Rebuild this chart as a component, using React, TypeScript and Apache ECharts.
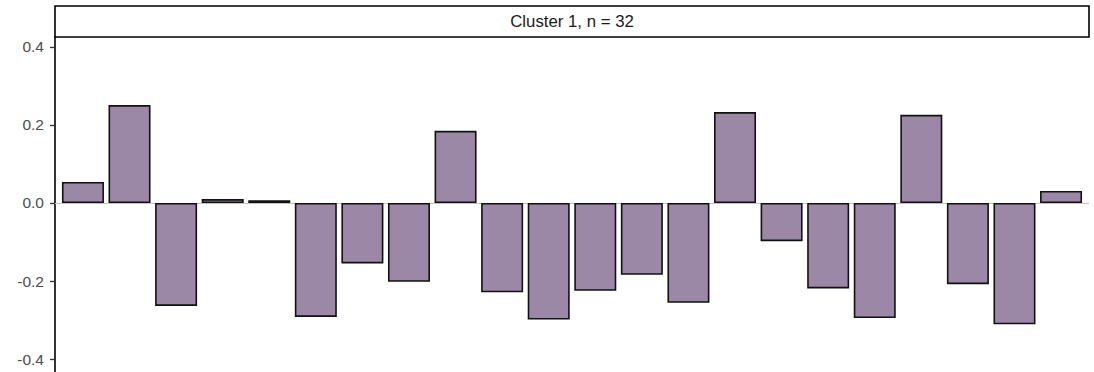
import React, { useEffect, useRef } from "react";
import * as echarts from "echarts";

const stripTitle = "Cluster 1, n = 32";
const positions = [1, 2, 3, 4, 5, 6, 7, 8, 9, 10, 11, 12, 13, 14, 15, 16, 17, 18, 19, 20, 21, 22];
const values = [
  0.054, 0.251, -0.264, 0.010, 0.007, -0.292, -0.155, -0.202, 0.185, -0.229, -0.299,
  -0.225, -0.184, -0.256, 0.233, -0.098, -0.219, -0.295, 0.226, -0.208, -0.311, 0.031,
];
const yTicks = [-0.4, -0.2, 0, 0.2, 0.4];

const FONT = "'Liberation Sans', Arial, Helvetica, sans-serif";

export default function App() {
  const ref = useRef<HTMLDivElement>(null);
  useEffect(() => {
    if (!ref.current) return;
    const chart = echarts.init(ref.current, null, { renderer: "svg" });
    const gridLeft = 55;
    const gridRight = 5;
    const width = 1094;
    chart.setOption({
      animation: false,
      backgroundColor: "#ffffff",
      grid: { left: gridLeft, right: gridRight, top: 37, bottom: 0 },
      xAxis: {
        type: "value",
        min: 0.4,
        max: 22.6,
        show: false,
      },
      yAxis: {
        type: "value",
        min: -0.4333,
        max: 0.4256,
        axisLine: { show: true, onZero: false, lineStyle: { color: "#000000", width: 1.6 } },
        axisTick: { show: true, length: 5, customValues: yTicks, lineStyle: { color: "#333333", width: 1.3 } },
        splitLine: { show: false },
        axisLabel: {
          customValues: yTicks,
          formatter: (v: number) => v.toFixed(1),
          color: "#4D4D4D",
          fontSize: 15.5,
          fontFamily: FONT,
          margin: 11,
        },
      },
      series: [
        {
          type: "bar",
          data: positions.map((p, i) => [p, values[i]]),
          barWidth: 42,
          itemStyle: { color: "#9A88A6", borderColor: "#111111", borderWidth: 1.6 },
          markLine: {
            silent: true,
            symbol: "none",
            label: { show: false },
            lineStyle: { color: "#C4C4C4", width: 1, type: "solid" },
            data: [{ yAxis: 0 }],
            z: 1,
          },
          z: 2,
        },
      ],
      graphic: [
        {
          type: "rect",
          shape: { x: gridLeft, y: 6, width: width - gridLeft - gridRight, height: 31 },
          style: { fill: "#ffffff", stroke: "#000000", lineWidth: 1.6 },
        },
        {
          type: "text",
          x: gridLeft + (width - gridLeft - gridRight) / 2,
          y: 21.5,
          style: {
            text: stripTitle,
            fill: "#1A1A1A",
            fontSize: 16.8,
            fontFamily: FONT,
            align: "center",
            verticalAlign: "middle",
          },
        },
      ],
    });
    return () => chart.dispose();
  }, []);
  return <div ref={ref} style={{ width: 1094, height: 372, position: "absolute", left: 0, top: 0 }} />;
}
